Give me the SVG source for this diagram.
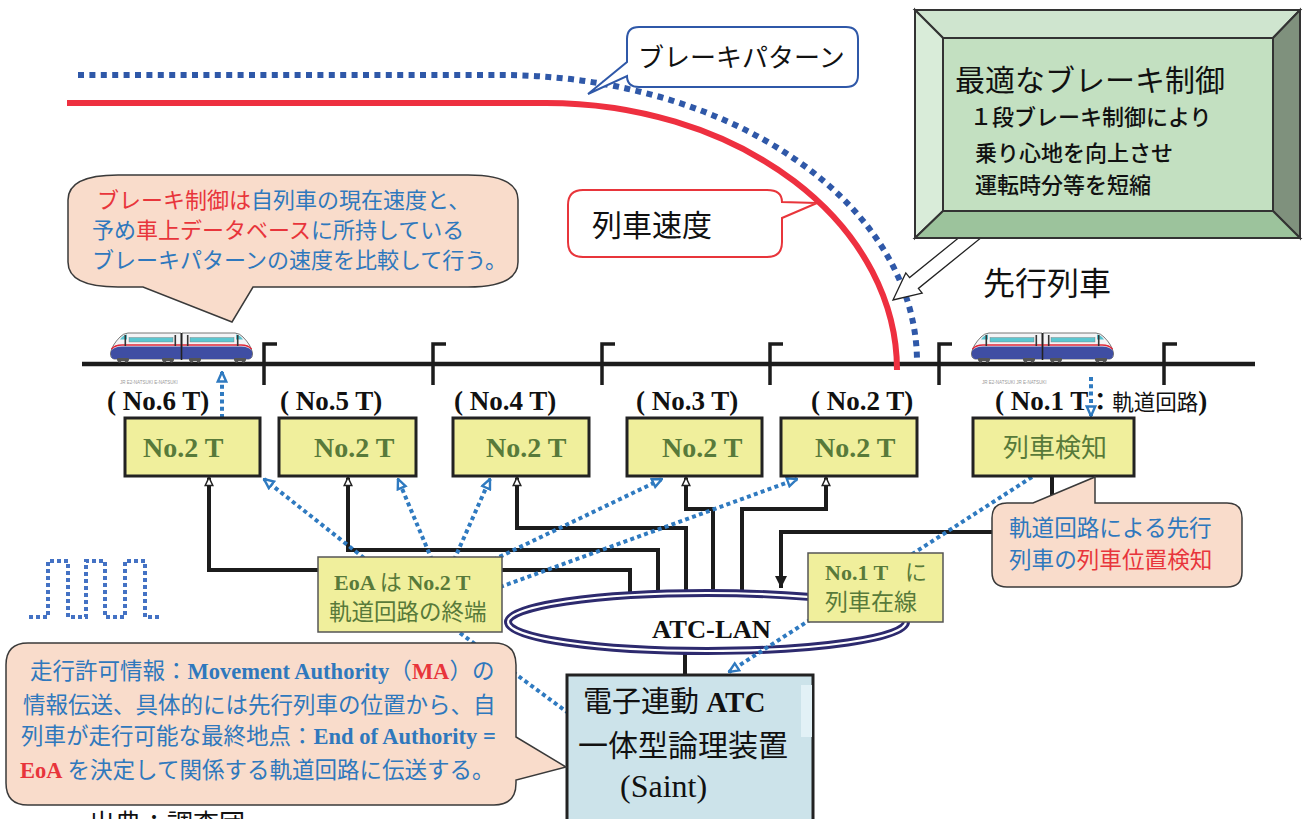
<svg xmlns="http://www.w3.org/2000/svg" width="1306" height="819" viewBox="0 0 1306 819">
<style>
.cjk{font-family:"Noto Sans CJK JP",sans-serif}
.ser{font-family:"Liberation Serif","Noto Sans CJK JP",serif}
.sb{font-family:"Liberation Serif","Noto Sans CJK JP",serif;font-weight:bold}
.box{fill:#f0ef9c;stroke:#222;stroke-width:3}
.tbox{fill:#f0ef9c;stroke:#555;stroke-width:1.5}
.lbl{font-family:"Liberation Serif",serif;font-weight:bold;font-size:27px;fill:#111}
.g2t{font-family:"Liberation Serif",serif;font-weight:bold;font-size:28px;fill:#587a3a}
.grn{fill:#587a3a}
.wire{fill:none;stroke:#1c1c1c;stroke-width:4;stroke-linejoin:miter}
.dot{fill:none;stroke:#2f7ac0;stroke-width:4;stroke-dasharray:4 3.3}
.pink{fill:#f9dccb;stroke:#3a3a3a;stroke-width:1.5}
.blue{fill:#2f78bd}
.red{fill:#e8353b}
.joint{fill:none;stroke:#1c1c1c;stroke-width:3.5}
</style>
<defs>
  <marker id="upTri" markerUnits="userSpaceOnUse" markerWidth="10" markerHeight="10" viewBox="0 0 10 10" refX="9" refY="5" orient="auto-start-reverse">
    <path d="M1,1.2 L9,5 L1,8.8 Z" fill="#fff" stroke="#222" stroke-width="1.5"/>
  </marker>
  <marker id="bArr" markerUnits="userSpaceOnUse" markerWidth="12" markerHeight="12" viewBox="0 0 12 12" refX="11" refY="6" orient="auto">
    <path d="M1.5,1.8 L11,6 L1.5,10.2 Z" fill="#fff" stroke="#2f7ac0" stroke-width="2.4"/>
  </marker>
  <marker id="dnArr" markerUnits="userSpaceOnUse" markerWidth="13" markerHeight="13" viewBox="0 0 13 13" refX="12" refY="6.5" orient="auto">
    <path d="M0,0.5 L12,6.5 L0,12.5 Z" fill="#1c1c1c"/>
  </marker>
  <g id="car">
    <path d="M4,28 Q0,27 0.5,22 Q2,14 10,6 Q13,2.5 18,2 H71 V28 Z" fill="#f4f4f6" stroke="#555" stroke-width="0.8"/>
    <path d="M1,20 Q4,15.5 12,15.5 H71 V28 H4 Q0,27 1,20 Z" fill="#3f4ea3"/>
    <path d="M1.5,18 Q5,14 12,14 H71" fill="none" stroke="#e0283a" stroke-width="1.6"/>
    <path d="M10,8.5 Q13,4 17,3.5 V8.5 Z" fill="#59c3cf"/>
    <rect x="19" y="6.5" width="44" height="4.5" fill="#5cc6d0" stroke="#777" stroke-width="0.4"/>
    <rect x="14.5" y="4" width="1.6" height="11" fill="#333"/>
    <rect x="64.5" y="4" width="1.6" height="11" fill="#333"/>
    <g fill="#555">
      <rect x="7" y="27" width="12" height="3" rx="1"/>
      <circle cx="9.5" cy="30" r="1.8"/><circle cx="16.5" cy="30" r="1.8"/>
      <rect x="52" y="27" width="12" height="3" rx="1"/>
      <circle cx="54.5" cy="30" r="1.8"/><circle cx="61.5" cy="30" r="1.8"/>
    </g>
  </g>
  <g id="train">
    <use href="#car"/>
    <use href="#car" transform="translate(143,0) scale(-1,1)"/>
    <line x1="71.5" y1="2" x2="71.5" y2="29" stroke="#222" stroke-width="1.6"/>
  </g>
</defs>

<rect width="1306" height="819" fill="#fff"/>

<!-- track with insulated joints -->
<g id="track">
  <line x1="82" y1="364" x2="1255" y2="364" stroke="#1c1c1c" stroke-width="4.7"/>
  <path class="joint" d="M264,385 V344 H277 M433,385 V344 H446 M602,385 V344 H615 M770,385 V344 H783 M939,385 V344 H952 M1164,385 V344 H1177"/>
</g>

<!-- speed curves -->
<g id="curves">
  <path d="M78,75 H500 A417,287 0 0 1 917,362" fill="none" stroke="#2f58a8" stroke-width="6" stroke-dasharray="6 5.4"/>
  <path d="M67,103 H546 A351,267 0 0 1 897,370" fill="none" stroke="#ee3040" stroke-width="6"/>
</g>

<!-- trains -->
<g id="own-train">
  <use href="#train" transform="translate(110,331)"/>
  <text x="120" y="384" font-family="Liberation Sans" font-size="4.5" fill="#999">JR  E2-NATSUKI     E-NATSUKI</text>
</g>
<g id="leading-train">
  <use href="#train" transform="translate(971,331)"/>
  <text x="982" y="384" font-family="Liberation Sans" font-size="4.5" fill="#999">JR  E2-NATSUKI     JR  E-NATSUKI</text>
</g>

<!-- callouts on the curves -->
<g id="pattern-callout">
  <path d="M639,27 H846 Q858,27 858,39 V75 Q858,87 846,87 H639 Q627,87 627,76 L588,94 L627,62 V39 Q627,27 639,27 Z" fill="#fff" stroke="#2f58a8" stroke-width="2"/>
  <text class="cjk" x="638" y="67" font-size="26" fill="#111">ブレーキパターン</text>
</g>
<g id="speed-callout">
  <path d="M583,190 H767 Q782,190 782,202 L817,203 L782,218 V242 Q782,257 767,257 H583 Q568,257 568,242 V205 Q568,190 583,190 Z" fill="#fff" stroke="#e8353b" stroke-width="2"/>
  <text class="cjk" x="592" y="236" font-size="30" fill="#111">列車速度</text>
</g>

<!-- optimal brake control panel -->
<g id="brake-panel">
  <polygon points="0,0 27,-13 27,-7 120,-7 120,7 27,7 27,13" transform="translate(893,300) rotate(-39)" fill="#fff" stroke="#222" stroke-width="1.3"/>
  <g stroke="#333" stroke-width="2" stroke-linejoin="miter">
    <polygon points="915,10 1300,10 1273,38 943,38" fill="#cfe5cf"/>
    <polygon points="915,10 943,38 943,211 915,238" fill="#d9ecd9"/>
    <polygon points="1300,10 1300,238 1273,211 1273,38" fill="#7f917d"/>
    <polygon points="915,238 1300,238 1273,211 943,211" fill="#9cc39c"/>
    <rect x="943" y="38" width="330" height="173" fill="#c3e0c1"/>
  </g>
  <text class="cjk" x="955" y="91" font-size="30" fill="#111">最適なブレーキ制御</text>
  <g class="cjk" font-size="22" font-weight="500" fill="#111">
    <text x="970" y="125">１段ブレーキ制御により</text>
    <text x="975" y="161">乗り心地を向上させ</text>
    <text x="975" y="193">運転時分等を短縮</text>
  </g>
</g>
<text id="leading-label" class="cjk" x="983" y="295" font-size="32" fill="#111">先行列車</text>

<!-- connectors -->
<g id="connectors">
  <polyline class="wire" points="209,477.5 209,570 630,570 630,597" marker-start="url(#upTri)"/>
  <polyline class="wire" points="348,477.5 348,550 658,550 658,597" marker-start="url(#upTri)"/>
  <polyline class="wire" points="517,477.5 517,528 686,528 686,597" marker-start="url(#upTri)"/>
  <polyline class="wire" points="686,477.5 686,509 713,509 713,597" marker-start="url(#upTri)"/>
  <polyline class="wire" points="826,477.5 826,509 742,509 742,597" marker-start="url(#upTri)"/>
  <polyline class="wire" points="1052,476 1052,532 781,532 781,588" marker-end="url(#dnArr)"/>
  <line class="wire" x1="685" y1="650" x2="685" y2="677"/>
  <g id="atc-lan">
    <ellipse cx="707" cy="622" rx="199" ry="29" fill="none" stroke="#2d2a6e" stroke-width="8"/>
    <ellipse cx="707" cy="622" rx="199" ry="29" fill="none" stroke="#fff" stroke-width="2.2"/>
    <text class="sb" x="652" y="638" font-size="26" textLength="119" lengthAdjust="spacingAndGlyphs" fill="#111">ATC-LAN</text>
  </g>
  <line class="dot" x1="222" y1="418" x2="222" y2="372" marker-end="url(#bArr)"/>
  <line class="dot" x1="1091" y1="377" x2="1091" y2="416" marker-end="url(#bArr)"/>
  <line class="dot" x1="364" y1="558" x2="264" y2="479" marker-end="url(#bArr)"/>
  <line class="dot" x1="432" y1="560" x2="398" y2="479" marker-end="url(#bArr)"/>
  <line class="dot" x1="454" y1="560" x2="490" y2="479" marker-end="url(#bArr)"/>
  <line class="dot" x1="493" y1="560" x2="662" y2="479" marker-end="url(#bArr)"/>
  <line class="dot" x1="500" y1="587" x2="797" y2="479" marker-end="url(#bArr)"/>
  <line class="dot" x1="1032" y1="477" x2="729" y2="672" marker-end="url(#bArr)"/>
  <line class="dot" x1="460" y1="633" x2="567" y2="712"/>
</g>

<!-- track circuit labels -->
<g id="track-labels">
  <text class="lbl" x="107" y="410">( No.6 T)</text>
  <text class="lbl" x="280" y="410">( No.5 T)</text>
  <text class="lbl" x="454" y="410">( No.4 T)</text>
  <text class="lbl" x="636" y="410">( No.3 T)</text>
  <text class="lbl" x="811" y="410">( No.2 T)</text>
  <text x="995" y="410"><tspan class="lbl">( No.1 T</tspan><tspan class="cjk" font-size="24" font-weight="bold" fill="#111">：</tspan><tspan class="cjk" font-size="21.5" fill="#111">軌道回路</tspan><tspan class="lbl">)</tspan></text>
</g>

<!-- track circuit devices -->
<g id="tc6"><rect class="box" x="125" y="418" width="135" height="58"/><text class="g2t" x="143" y="457">No.2 T</text></g>
<g id="tc5"><rect class="box" x="279" y="418" width="137" height="58"/><text class="g2t" x="314" y="457">No.2 T</text></g>
<g id="tc4"><rect class="box" x="453" y="418" width="136" height="58"/><text class="g2t" x="486" y="457">No.2 T</text></g>
<g id="tc3"><rect class="box" x="627" y="418" width="135" height="58"/><text class="g2t" x="662" y="457">No.2 T</text></g>
<g id="tc2"><rect class="box" x="781" y="418" width="136" height="58"/><text class="g2t" x="815" y="457">No.2 T</text></g>
<g id="tc1"><rect class="box" x="973" y="418" width="161" height="58"/><text class="cjk grn" x="1003" y="457" font-size="26">列車検知</text></g>

<g id="eoa-note">
  <rect class="tbox" x="318" y="557" width="184" height="75"/>
  <text x="334" y="590" font-size="22" class="grn"><tspan class="sb">EoA </tspan><tspan class="cjk">は</tspan><tspan class="sb"> No.2 T</tspan></text>
  <text class="cjk grn" x="329" y="620" font-size="22.5">軌道回路の終端</text>
</g>
<g id="occupied-note">
  <rect class="tbox" x="808" y="553" width="135" height="69"/>
  <text x="825" y="580" font-size="22" class="grn"><tspan class="sb">No.1 T</tspan><tspan class="cjk" x="905">に</tspan></text>
  <text class="cjk grn" x="825" y="610" font-size="23">列車在線</text>
</g>

<g id="saint">
  <rect x="567" y="675" width="246" height="160" fill="#cce3ea" stroke="#222" stroke-width="3"/>
  <rect x="801" y="685" width="11" height="52" fill="#e2f1f6"/>
  <text x="583" y="712" font-size="29" fill="#111"><tspan class="cjk">電子連動</tspan><tspan class="sb"> ATC</tspan></text>
  <text class="cjk" x="578" y="756" font-size="30" fill="#111">一体型論理装置</text>
  <text class="ser" x="620" y="797" font-size="32" fill="#111">(Saint)</text>
</g>

<!-- explanatory balloons -->
<g id="onboard-note">
  <path class="pink" d="M118,175 H468 Q518,175 518,200 V262 Q518,287 468,287 H253 L232,322 L143,287 H118 Q68,287 68,262 V200 Q68,175 118,175 Z"/>
  <g class="cjk" font-size="22">
    <text x="97" y="208"><tspan class="red">ブレーキ制御は</tspan><tspan class="blue">自列車の現在速度と、</tspan></text>
    <text x="92" y="238"><tspan class="blue">予め</tspan><tspan class="red">車上データベース</tspan><tspan class="blue">に所持している</tspan></text>
    <text x="92" y="268" class="blue">ブレーキパターンの速度を比較して行う。</text>
  </g>
</g>
<g id="detect-note">
  <path class="pink" d="M1007,503 H1033 L1095,477 V503 H1227 Q1242,503 1242,518 V572 Q1242,587 1227,587 H1007 Q992,587 992,572 V518 Q992,503 1007,503 Z"/>
  <g class="cjk" font-size="22.6">
    <text x="1009" y="535.5" class="blue">軌道回路による先行</text>
    <text x="1009" y="567.5"><tspan class="blue">列車の</tspan><tspan class="red">列車位置検知</tspan></text>
  </g>
</g>
<g id="ma-note">
  <path class="pink" d="M28,643 H494 Q516,643 516,665 V737 L566,767 L516,780 V783 Q516,805 494,805 H28 Q6,805 6,783 V665 Q6,643 28,643 Z"/>
  <g font-size="22.5">
    <text x="30" y="678.5"><tspan class="cjk blue">走行許可情報：</tspan><tspan class="sb blue">Movement Authority</tspan><tspan class="cjk blue">（</tspan><tspan class="sb red">MA</tspan><tspan class="cjk blue">）の</tspan></text>
    <text x="23" y="712.5" class="cjk blue">情報伝送、具体的には先行列車の位置から、自</text>
    <text x="21" y="743.5"><tspan class="cjk blue">列車が走行可能な最終地点：</tspan><tspan class="sb blue">End of Authority =</tspan></text>
    <text x="20" y="777.5"><tspan class="sb red">EoA</tspan><tspan class="cjk blue"> を決定して関係する軌道回路に伝送する。</tspan></text>
  </g>
</g>

<!-- pulse train symbol -->
<path d="M29,617 H48 V561 H68 V617 H86 V561 H105 V617 H125 V561 H145 V617 H162" fill="none" stroke="#4472c4" stroke-width="4" stroke-dasharray="4 3"/>

<text class="cjk" x="89" y="833" font-size="26" fill="#111">出典：調査団</text>
</svg>
